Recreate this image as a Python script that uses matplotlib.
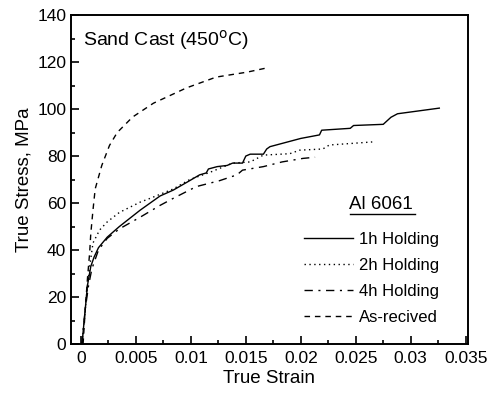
import matplotlib
matplotlib.use("Agg")
import matplotlib.pyplot as plt
from matplotlib.ticker import FixedLocator, FixedFormatter, MultipleLocator

plt.rcParams['font.family'] = ['Liberation Sans', 'DejaVu Sans']

# 1h holding (solid)
strain_1h = [0.0001, 0.0004, 0.0006, 0.0009, 0.0012, 0.0016, 0.0024, 0.0035, 0.0054,
             0.0072, 0.0084, 0.0097, 0.0108, 0.0114, 0.0116, 0.0124, 0.0133, 0.0138,
             0.0147, 0.0150, 0.0154, 0.0166, 0.0169, 0.0172, 0.0200, 0.0217, 0.0219,
             0.0245, 0.0248, 0.0275, 0.0282, 0.0288, 0.0326]
stress_1h = [0, 15, 25, 33, 37, 41, 45.5, 50, 57,
             63, 65.5, 69, 72, 72.8, 74.5, 75.5, 76, 77,
             77, 80, 80.8, 80.8, 83, 84, 87.5, 89, 91,
             91.8, 93, 93.5, 96.5, 98, 100.4]

# 2h holding (dotted)
strain_2h = [0.0001, 0.0004, 0.0006, 0.0008, 0.0011, 0.0017, 0.0024, 0.0035, 0.0054,
             0.0063, 0.0084, 0.0099, 0.0117, 0.0138, 0.0154, 0.0166, 0.0190, 0.0199,
             0.0220, 0.0226, 0.0265]
stress_2h = [0, 15, 25, 33, 43, 48.5, 52, 56, 60.4,
             62, 66, 70, 73, 77, 77.5, 80.4, 81, 82.5,
             83, 84.7, 86]

# 4h holding (dash-dot)
strain_4h = [0.0001, 0.0004, 0.0007, 0.0010, 0.0013, 0.0016, 0.0024, 0.0035, 0.0054,
             0.0072, 0.0084, 0.0105, 0.0126, 0.0142, 0.0147, 0.0166, 0.0183, 0.0202,
             0.0213]
stress_4h = [0, 15, 25, 32, 36, 40, 45, 49, 54,
             59, 62, 67, 69.5, 72, 74, 75.5, 77.5, 79,
             79.5]

# as-received (dashed)
strain_ar = [0.0002, 0.0004, 0.0006, 0.0008, 0.0009, 0.0011, 0.0013, 0.0019, 0.0026,
             0.0033, 0.0047, 0.0066, 0.0096, 0.0123, 0.0151, 0.0168]
stress_ar = [0, 15, 28, 39, 47, 57, 66, 76, 84.5,
             90, 96.6, 102.5, 109, 113.6, 115.7, 117.4]

xticks = [0, 0.005, 0.01, 0.015, 0.02, 0.025, 0.03, 0.035]
xlabels = ['0', '0.005', '0.01', '0.015', '0.02', '0.025', '0.03', '0.035']

fig = plt.figure(figsize=(4.92, 3.97), dpi=100)
ax = fig.add_axes([0.1443, 0.1335, 0.8067, 0.8285])

ax.plot(strain_1h, stress_1h, color='black', lw=1.0, ls='-', label='1h Holding')
ax.plot(strain_2h, stress_2h, color='black', lw=1.0, ls=(0, (1, 2.5)), label='2h Holding')
ax.plot(strain_4h, stress_4h, color='black', lw=1.0, ls=(0, (6, 4, 1.5, 4)), label='4h Holding')
ax.plot(strain_ar, stress_ar, color='black', lw=1.0, ls=(0, (4, 3.5)), label='As-recived')

ax.set_xlim(-0.0009, 0.0352)
ax.set_ylim(0, 140)
ax.xaxis.set_major_locator(FixedLocator(xticks))
ax.xaxis.set_major_formatter(FixedFormatter(xlabels))
ax.xaxis.set_minor_locator(MultipleLocator(0.0025))
ax.yaxis.set_major_locator(MultipleLocator(20))
ax.yaxis.set_minor_locator(MultipleLocator(10))
ax.tick_params(which='both', direction='in', labelsize=12.5, width=1.2)
ax.tick_params(which='major', length=6)
ax.tick_params(which='minor', length=3)
ax.tick_params(axis='x', which='major', pad=5)
for s in ax.spines.values():
    s.set_linewidth(1.4)

ax.set_xlabel('True Strain', fontsize=13.5, labelpad=3)
ax.set_ylabel('True Stress, MPa', fontsize=13.5, labelpad=3)

ax.text(0.03, 0.925, 'Sand Cast (450$^{\\rm o}$C)', transform=ax.transAxes,
        fontsize=14, va='center', ha='left')

ax.text(0.782, 0.425, 'Al 6061', transform=ax.transAxes, fontsize=13.5,
        va='center', ha='center')
ax.plot([0.703, 0.866], [0.396, 0.396], transform=ax.transAxes, color='black', lw=1.0)

ax.legend(loc='upper left', bbox_to_anchor=(0.588, 0.34), frameon=False,
          fontsize=12, handlelength=2.9, handletextpad=0.35, labelspacing=0.65,
          borderaxespad=0, borderpad=0)

fig.savefig('out.png', dpi=100)
